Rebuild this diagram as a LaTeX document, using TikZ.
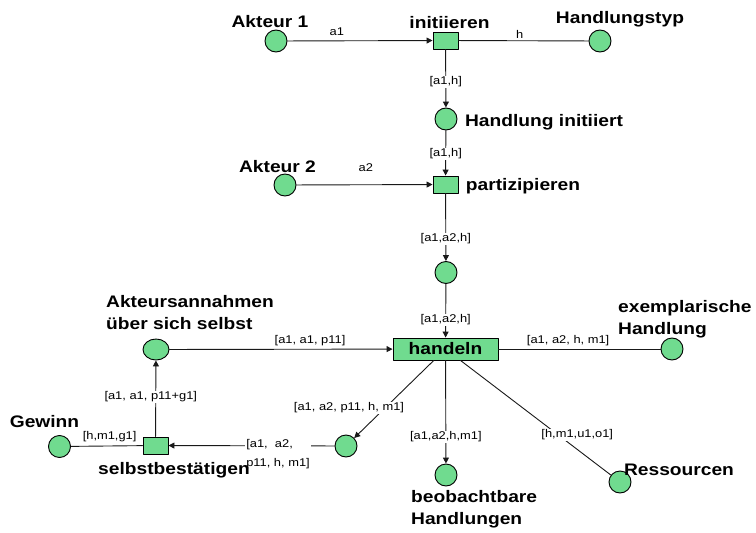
\documentclass[tikz,border=0pt]{standalone}
\usepackage{fontspec}
\setmainfont{Liberation Sans}[FakeStretch=1.15]
\usetikzlibrary{arrows.meta,shapes.geometric}
\definecolor{pngreen}{RGB}{112,219,143}
\newcommand{\pnbig}{\fontsize{16.7}{22}\selectfont\bfseries}
\newcommand{\pnsmall}{\fontsize{11.2}{19}\selectfont}

\begin{document}
\begin{tikzpicture}[x=1pt, y=-1pt, line cap=round, line join=round, >={Triangle[length=6pt,width=6pt]}]
	\tikzset{place/.style={circle, draw=black, line width=0.9pt, fill=pngreen, minimum size=22pt, inner sep=0pt},
		trans/.style={rectangle, draw=black, line width=0.9pt, fill=pngreen, minimum width=25pt, minimum height=17pt, inner sep=0pt},
		arc/.style={draw=black!90, line width=0.9pt},
		al/.style={font=\pnsmall, fill=white, inner sep=1pt},
		lbl/.style={font=\pnbig, inner sep=0pt, anchor=base}}
	\useasboundingbox (0,0) rectangle (756,533);
	% Stellen und Transitionen
	\node[place] (akt1) at (276,41) {};
	\node[trans] (init) at (445.5,40.5) {};
	\node[place] (htyp) at (600,41) {};
	\node[place] (hinit) at (446,119) {};
	\node[place] (akt2) at (285,185) {};
	\node[trans] (part) at (445.5,184.5) {};
	\node[place] (hpart) at (446,272.5) {};
	\node[trans, minimum width=105pt, minimum height=22pt, font=\pnbig] (hand) at (445.5,349) {handeln};
	\node[place] (exem) at (672,349) {};
	\node[place, ellipse, minimum width=26pt, minimum height=21pt] (annah) at (156,349.5) {};
	\node[place] (beob) at (446,475) {};
	\node[place] (ress) at (620,482) {};
	\node[place] (pelf) at (346,446) {};
	\node[trans] (selbst) at (155.5,445.5) {};
	\node[place] (gew) at (59.5,446.5) {};
	% Kanten
	\draw[arc,->] (akt1) -- node[al, pos=0.34, yshift=9pt]{a1} (init);
	\draw[arc] (init) -- node[al, pos=0.47, yshift=6pt]{h} (htyp);
	\draw[arc,->] (init) -- node[al, pos=0.56]{[a1,h]} (hinit);
	\draw[arc,->] (hinit) -- node[al, pos=0.52]{[a1,h]} (part);
	\draw[arc,->] (akt2) -- node[al, pos=0.51, yshift=17pt]{a2} (part);
	\draw[arc,->] (part) -- node[al, pos=0.67]{[a1,a2,h]} (hpart);
	\draw[arc,->] (hpart) -- node[al, pos=0.67]{[a1,a2,h]} (hand);
	\draw[arc] (hand) -- node[al, pos=0.43, yshift=8pt]{[a1, a2, h, m1]} (exem);
	\draw[arc,->] (annah) -- node[al, pos=0.63, yshift=9pt]{[a1, a1, p11]} (hand);
	\draw[arc,->] (hand) -- node[al, pos=0.74]{[a1,a2,h,m1]} (beob);
	\draw[arc] (hand) -- node[al, pos=0.65, xshift=19pt]{[h,m1,u1,o1]} (ress);
	\draw[arc,->] (hand) -- node[al, pos=0.613, xshift=-36pt]{[a1, a2, p11, h, m1]} (pelf);
	\draw[arc,->] (pelf) -- node[al, align=left, anchor=west, pos=0.54, yshift=-8.5pt]{[a1,\ \ a2,\\p11, h, m1]} (selbst);
	\draw[arc,->] (selbst) -- node[al, pos=0.52, xshift=-5pt]{[a1, a1, p11+g1]} (annah);
	\draw[arc] (gew) -- node[al, pos=0.54, yshift=9.5pt]{[h,m1,g1]} (selbst);
	% Beschriftungen
	\node[lbl] (takt1) at (270,27) {Akteur 1};
	\node[lbl] (tinit) at (449.5,28) {initiieren};
	\node[lbl] (thtyp) at (620,23) {Handlungstyp};
	\node[lbl] (thinit) at (544,126) {Handlung initiiert};
	\node[lbl] (takt2) at (277.5,172) {Akteur 2};
	\node[lbl] (tpart) at (523,190) {partizipieren};
	\node[lbl, anchor=north west, align=left] (tannah) at (106,295) {Akteursannahmen\\über sich selbst};
	\node[lbl, anchor=north west, align=left] (texem) at (618,300) {exemplarische\\Handlung};
	\node[lbl] (tgew) at (44.5,427) {Gewinn};
	\node[lbl] (tselbst) at (174,474) {selbstbestätigen};
	\node[lbl, anchor=north west, align=left] (tbeob) at (411,490) {beobachtbare\\Handlungen};
	\node[lbl] (tress) at (679,475) {Ressourcen};
\end{tikzpicture}
\end{document}
